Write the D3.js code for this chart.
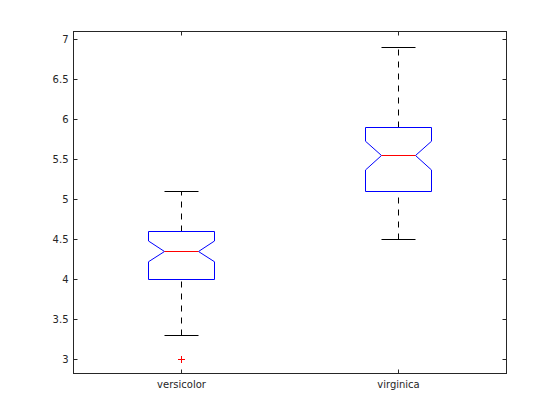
<!DOCTYPE html>
<html><head><meta charset="utf-8">
<script src="https://cdn.jsdelivr.net/npm/d3@7"></script>
<style>body{margin:0;background:#fff}svg{display:block}text{font-family:"DejaVu Sans",sans-serif;font-size:10px;fill:#262626}</style>
</head><body>
<script>
const categories = ["versicolor", "virginica"];
const whiskerLow = [3.3, 4.5];
const q1 = [4.0, 5.1];
const median = [4.35, 5.55];
const q3 = [4.6, 5.9];
const whiskerHigh = [5.1, 6.9];
const notchLow = [4.22, 5.37];
const notchHigh = [4.48, 5.73];
const outliers = [[3.0], []];
const yTicks = [3, 3.5, 4, 4.5, 5, 5.5, 6, 6.5, 7];

const W = 560, H = 420;
const L = 73.5, R = 506.5, T = 31.5, B = 373.5;
const svg = d3.select("body").append("svg").attr("width", W).attr("height", H);
const x = d3.scaleLinear().domain([0.5, 2.5]).range([L, R]);
const y = d3.scaleLinear().domain([2.82, 7.105]).range([B, T]);
const px = v => Math.round(v - 0.5) + 0.5;
const bw = 0.305; // box width in category units

const g = svg.append("g");
categories.forEach((c, i) => {
  const cx = px(x(i + 1));
  const hw = Math.round((x(bw) - x(0)) / 2);
  const nw = Math.round(hw / 2);
  // whiskers
  [[q3[i], whiskerHigh[i]], [whiskerLow[i], q1[i]]].forEach(([a, b]) => {
    g.append("line").attr("x1", cx).attr("x2", cx).attr("y1", px(y(a))).attr("y2", px(y(b)))
      .attr("stroke", "#000").attr("stroke-width", 1).attr("stroke-dasharray", "6,6");
  });
  [whiskerHigh[i], whiskerLow[i]].forEach(v => {
    g.append("line").attr("x1", cx - nw).attr("x2", cx + nw).attr("y1", px(y(v))).attr("y2", px(y(v)))
      .attr("stroke", "#000").attr("stroke-width", 1);
  });
  // notched box
  const pts = [
    [cx - hw, px(y(q1[i]))], [cx - hw, y(notchLow[i])], [cx - nw, px(y(median[i]))], [cx - hw, y(notchHigh[i])],
    [cx - hw, px(y(q3[i]))], [cx + hw, px(y(q3[i]))], [cx + hw, y(notchHigh[i])], [cx + nw, px(y(median[i]))],
    [cx + hw, y(notchLow[i])], [cx + hw, px(y(q1[i]))]
  ];
  g.append("path").attr("d", d3.line()(pts) + "Z").attr("fill", "none").attr("stroke", "#0000ff").attr("stroke-width", 1);
  g.append("line").attr("x1", cx - nw).attr("x2", cx + nw).attr("y1", px(y(median[i]))).attr("y2", px(y(median[i])))
    .attr("stroke", "#ff0000").attr("stroke-width", 1);
  outliers[i].forEach(v => {
    const oy = px(y(v));
    g.append("path").attr("d", `M${cx-3.5},${oy}H${cx+3.5}M${cx},${oy-3.5}V${oy+3.5}`)
      .attr("stroke", "#ff0000").attr("stroke-width", 1).attr("fill", "none");
  });
});

// axes frame
const ax = svg.append("g").attr("stroke", "#262626").attr("stroke-width", 1).attr("fill", "none");
ax.append("rect").attr("x", L).attr("y", T).attr("width", R - L).attr("height", B - T);
yTicks.forEach(t => {
  const ty = px(y(t));
  ax.append("line").attr("x1", L).attr("x2", L + 4).attr("y1", ty).attr("y2", ty);
  ax.append("line").attr("x1", R).attr("x2", R - 4).attr("y1", ty).attr("y2", ty);
  svg.append("text").attr("x", L - 5).attr("y", y(t)).attr("dy", "0.35em").attr("text-anchor", "end")
    .text(d3.format("")(t));
});
categories.forEach((c, i) => {
  const cx = px(x(i + 1));
  ax.append("line").attr("x1", cx).attr("x2", cx).attr("y1", B).attr("y2", B - 4);
  ax.append("line").attr("x1", cx).attr("x2", cx).attr("y1", T).attr("y2", T + 4);
  svg.append("text").attr("x", cx).attr("y", B + 14).attr("text-anchor", "middle").text(c);
});
</script>
</body></html>
